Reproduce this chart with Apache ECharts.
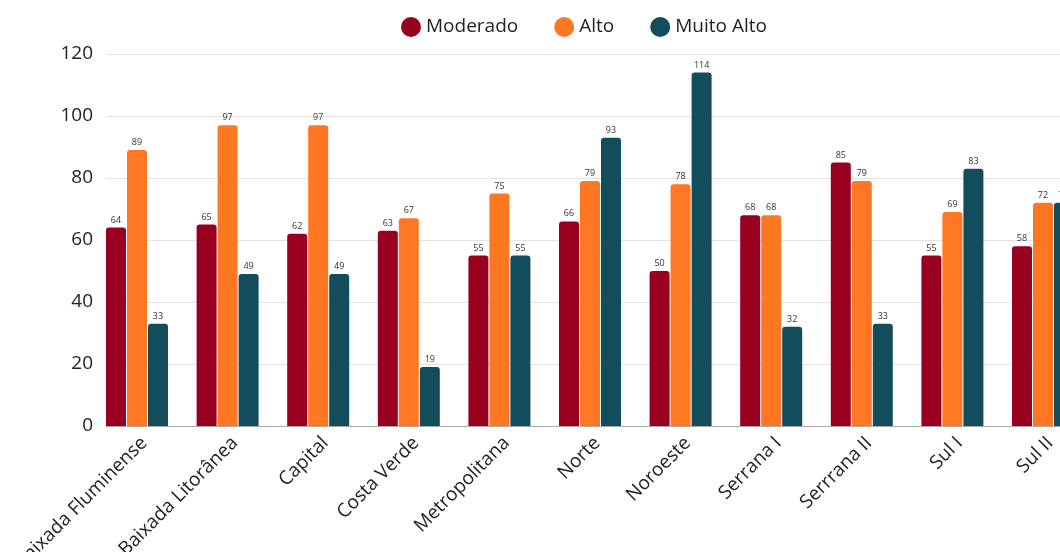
<!DOCTYPE html>
<html>
<head>
<meta charset="utf-8">
<script src="https://cdn.jsdelivr.net/npm/echarts@6/dist/echarts.min.js"></script>
<style>
html,body{margin:0;padding:0;background:#fff;}
#chart{width:1060px;height:552px;}
</style>
</head>
<body>
<div id="chart"></div>
<script>
const categories = ["Baixada Fluminense","Baixada Litorânea","Capital","Costa Verde","Metropolitana","Norte","Noroeste","Serrana I","Serrrana II","Sul I","Sul II"];
const moderado = [64,65,62,63,55,66,50,68,85,55,58];
const alto = [89,97,97,67,75,79,78,68,79,69,72];
const muitoAlto = [33,49,49,19,55,93,114,32,33,83,72];
const seriesNames = ["Moderado","Alto","Muito Alto"];
const colors = ["#990020","#FF7722","#124D5C"];

const FONT = "Open Sans";
const chart = echarts.init(document.getElementById('chart'));
const labelCfg = {show:true, position:'top', fontSize:9, color:'#333', fontFamily:FONT, distance:3};
function barSeries(name, data, color){
  return {name, type:'bar', data, barWidth:20, itemStyle:{color, borderRadius:[3,3,0,0]}, label:labelCfg};
}
chart.setOption({
  animation:false,
  legend:{
    data:seriesNames, top:12, left:396, icon:'circle', itemWidth:20, itemHeight:20, itemGap:36,
    textStyle:{fontSize:19, color:'#222', fontFamily:FONT}
  },
  grid:{left:106, width:996.6, top:54, bottom:126, containLabel:false, outerBoundsMode:'none'},
  xAxis:{
    type:'category', data:categories,
    axisLine:{lineStyle:{color:'#aaa'}}, axisTick:{show:false},
    axisLabel:{rotate:45, interval:0, fontSize:19, color:'#222', fontFamily:FONT, margin:7, padding:[0,10,0,0]}
  },
  yAxis:{
    type:'value', min:0, max:120, interval:20,
    axisLine:{show:false}, axisTick:{show:false},
    splitLine:{lineStyle:{color:'#e3e3e3'}},
    axisLabel:{fontSize:19, color:'#222', fontFamily:FONT, margin:13}
  },
  series:[
    Object.assign(barSeries(seriesNames[0], moderado, colors[0]), {barGap:'5%'}),
    barSeries(seriesNames[1], alto, colors[1]),
    barSeries(seriesNames[2], muitoAlto, colors[2]),
    {name:'_pad', type:'bar', data:[], barWidth:27.6, silent:true}
  ]
});
</script>
</body>
</html>
